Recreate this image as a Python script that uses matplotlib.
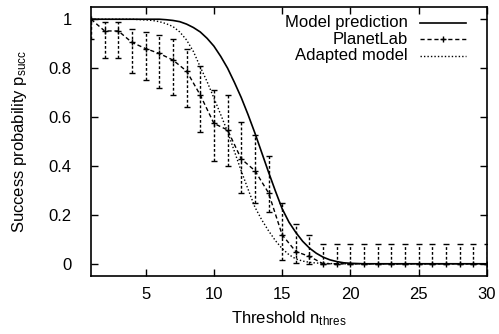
import matplotlib.pyplot as plt

plt.rcParams['font.family'] = ['Liberation Sans', 'DejaVu Sans']
plt.rcParams['font.size'] = 12

thresholds = list(range(1, 31))

# model prediction (sampled finer where it bends)
model_x = [1, 2, 3, 4, 5, 6, 6.5, 7, 7.5, 8, 8.5, 9, 9.5, 10, 10.5, 11, 11.5,
           12, 12.5, 13, 13.5, 14, 14.5, 15, 15.5, 16, 16.5, 17, 17.5, 18,
           18.5, 19, 19.5, 20, 21, 22, 23, 24, 25, 26, 27, 28, 29, 30]
model = [1.0, 1.0, 1.0, 1.0, 1.0, 1.0, 0.998, 0.995, 0.99, 0.98, 0.966, 0.948, 0.922, 0.89,
         0.848, 0.800, 0.742, 0.680, 0.610, 0.535, 0.455, 0.375, 0.298, 0.225, 0.17,
         0.128, 0.092, 0.064, 0.043, 0.027, 0.016, 0.009, 0.004, 0.002,
         0, 0, 0, 0, 0, 0, 0, 0, 0, 0]

# adapted model
adapted_x = [1, 2, 3, 4, 5, 5.5, 6, 6.5, 7, 7.5, 8, 8.5, 9, 9.5, 10, 10.5, 11,
             11.5, 12, 12.5, 13, 13.5, 14, 14.5, 15, 15.5, 16, 16.5, 17, 17.5,
             18, 19, 20, 21, 22, 23, 24, 25, 26, 27, 28, 29, 30]
adapted = [1.0, 1.0, 1.0, 1.0, 0.997, 0.995, 0.99, 0.982, 0.97, 0.948, 0.915, 0.868,
           0.805, 0.745, 0.678, 0.61, 0.54, 0.46, 0.38, 0.305, 0.232, 0.18, 0.135,
           0.095, 0.062, 0.037, 0.02, 0.011, 0.006, 0.003, 0.002, 0,
           0, 0, 0, 0, 0, 0, 0, 0, 0, 0, 0]

# planetlab measurements
planet = [1.0, 0.952, 0.952, 0.905, 0.88, 0.86, 0.833, 0.788, 0.69, 0.574,
          0.547, 0.429, 0.381, 0.29, 0.118, 0.05, 0.03, 0, 0, 0,
          0, 0, 0, 0, 0, 0, 0, 0, 0, 0]
planet_hi = [1.0, 0.99, 0.99, 0.96, 0.948, 0.935, 0.918, 0.88, 0.81, 0.71,
             0.69, 0.58, 0.527, 0.44, 0.25, 0.163, 0.118, 0.08, 0.08, 0.08,
             0.08, 0.08, 0.08, 0.08, 0.08, 0.08, 0.08, 0.08, 0.08, 0.08]
planet_lo = [0.92, 0.84, 0.84, 0.78, 0.751, 0.72, 0.69, 0.64, 0.54, 0.42,
             0.40, 0.29, 0.25, 0.21, 0.016, 0.005, 0, 0, 0, 0,
             0, 0, 0, 0, 0, 0, 0, 0, 0, 0]

err_lo = [p - l for p, l in zip(planet, planet_lo)]
err_hi = [h - p for p, h in zip(planet, planet_hi)]

fig = plt.figure(figsize=(4.99, 3.34), dpi=100)
ax = fig.add_axes([91/499, 58/334, 396/499, 269/334])

ax.plot(model_x, model, color='black', linewidth=1.2)
eb = ax.errorbar(thresholds, planet, yerr=[err_lo, err_hi], color='black',
                 linestyle=(0, (3, 2)), linewidth=1.0, marker='+', markersize=4,
                 elinewidth=1.0, capsize=2, capthick=1.0)
eb[2][0].set_linestyle((0, (2, 1.5)))
ax.plot(adapted_x, adapted, color='black', linestyle=(0, (1, 1.5)), linewidth=1.0)

ax.set_xlim(1, 30)
ax.set_ylim(-0.05, 1.05)
ax.set_xticks([5, 10, 15, 20, 25, 30])
ax.set_yticks([0, 0.2, 0.4, 0.6, 0.8, 1])
ax.set_yticklabels(['0', '0.2', '0.4', '0.6', '0.8', '1'])
ax.tick_params(direction='in', length=5, width=1, top=True, right=True)
ax.tick_params(axis='x', pad=8)
ax.tick_params(axis='y', pad=14)
for s in ax.spines.values():
    s.set_linewidth(1.2)

ax.set_xlabel(r'Threshold n$\mathregular{_{thres}}$', labelpad=5)
ax.set_ylabel(r'Success probability p$\mathregular{_{succ}}$', labelpad=14)

# gnuplot style key: right aligned text, sample to the right
key_rows = [('Model prediction', dict(linestyle='-', linewidth=1.2)),
            ('PlanetLab', dict(linestyle=(0, (3, 2)), linewidth=1.0, marker='+', markersize=4, markevery=[1])),
            ('Adapted model', dict(linestyle=(0, (1, 1.5)), linewidth=1.0))]
for i, (label, style) in enumerate(key_rows):
    yy = 1 - (15.5 + 16.5 * i) / 269
    ax.text(0.800, yy, label, transform=ax.transAxes, ha='right', va='center')
    ax.plot([0.83, 0.888, 0.947], [yy] * 3, transform=ax.transAxes, color='black', **style)

fig.savefig('out.png', dpi=100)
